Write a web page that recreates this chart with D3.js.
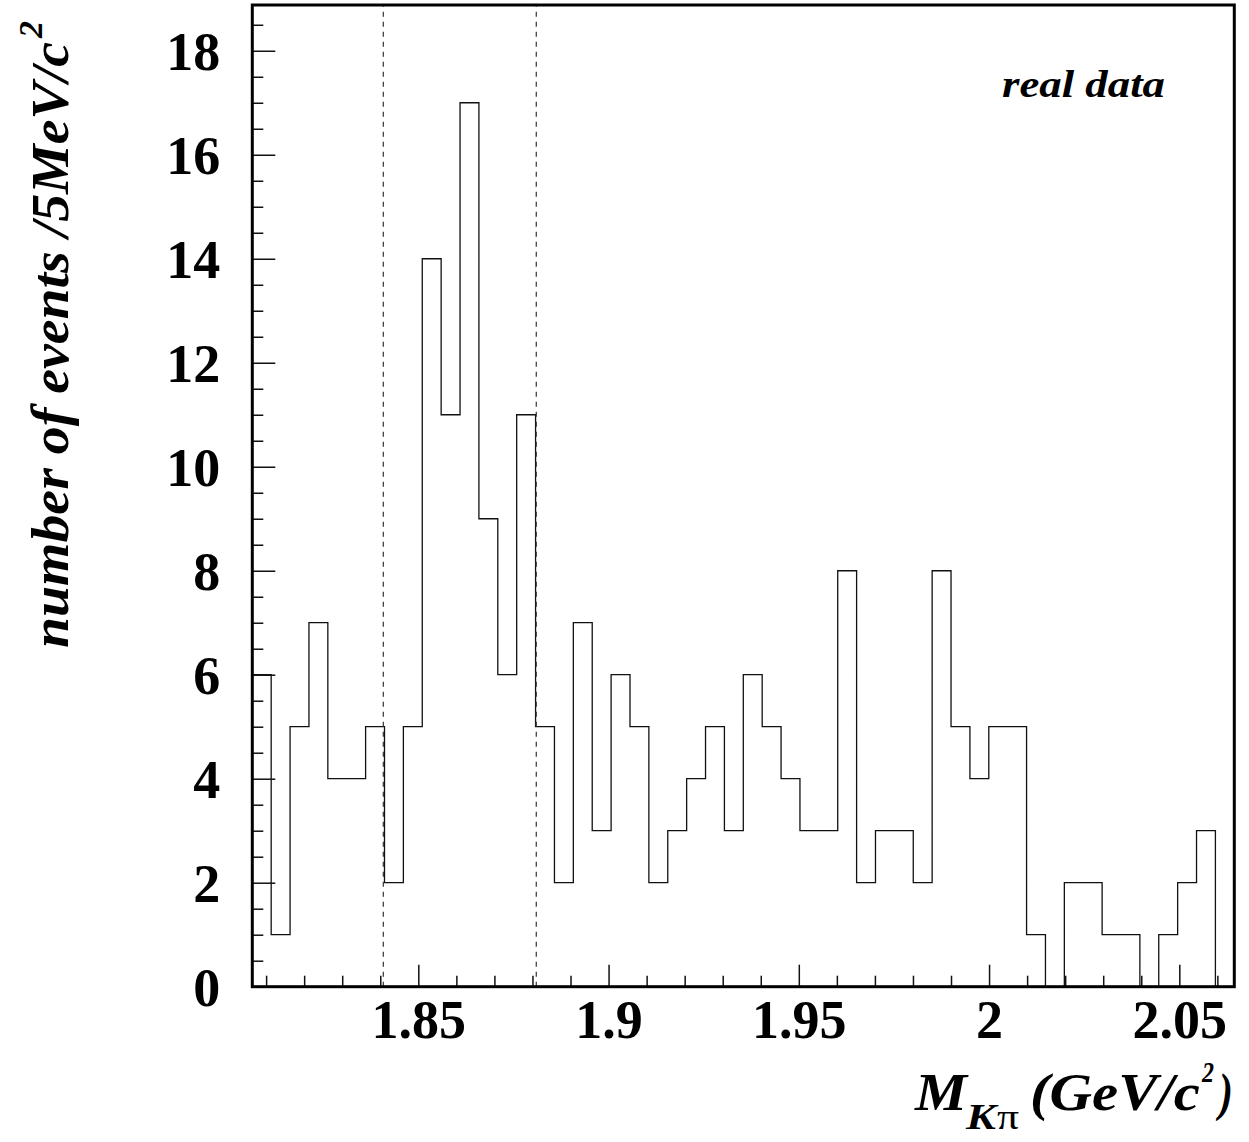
<!DOCTYPE html>
<html>
<head>
<meta charset="utf-8">
<script src="https://cdn.jsdelivr.net/npm/d3@7"></script>
<style>
  html, body { margin: 0; padding: 0; background: #fff; }
  svg { display: block; }
  text { font-family: "Liberation Serif", "Times New Roman", serif; fill: #000; }
</style>
</head>
<body>
<svg id="chart" width="1249" height="1142"></svg>
<script>
// ---- data ----
const counts = [6, 1, 5, 7, 4, 4, 5, 2, 5, 14, 11, 17, 9, 6, 11, 5, 2, 7, 3, 6,
                5, 2, 3, 4, 5, 3, 6, 5, 4, 3, 3, 8, 2, 3, 3, 2, 8, 5, 4, 5,
                5, 1, 0, 2, 2, 1, 1, 0, 1, 2, 3, 0];
const xRange = [1.80637, 2.06445];
const yRange = [0, 18.88];
const cutLines = [1.8408, 1.8810];
const xMajorTicks = [1.85, 1.9, 1.95, 2, 2.05];
const xMinorTicks = [1.81, 1.82, 1.83, 1.84, 1.86, 1.87, 1.88, 1.89, 1.91, 1.92, 1.93, 1.94,
                     1.96, 1.97, 1.98, 1.99, 2.01, 2.02, 2.03, 2.04, 2.06];
const yMajorTicks = [0, 2, 4, 6, 8, 10, 12, 14, 16, 18];
const yMinorTicks = [0.5, 1, 1.5, 2.5, 3, 3.5, 4.5, 5, 5.5, 6.5, 7, 7.5, 8.5, 9, 9.5,
                     10.5, 11, 11.5, 12.5, 13, 13.5, 14.5, 15, 15.5, 16.5, 17, 17.5, 18.5];
const labelText = "real data";
const yTitle = "number of events /5MeV/c";

// ---- layout ----
const svg = d3.select("#chart");
const L = 252.3, R = 1234.3, T = 5, B = 986.7;
const x = d3.scaleLinear().domain(xRange).range([L, R]);
const y = d3.scaleLinear().domain(yRange).range([B, T]);
const binW = (xRange[1] - xRange[0]) / counts.length;

// histogram step path
const pts = [[xRange[0], 0]];
counts.forEach((c, i) => {
  const x0 = xRange[0] + i * binW, x1 = xRange[0] + (i + 1) * binW;
  pts.push([x0, c]); pts.push([x1, c]);
});
pts.push([xRange[1], 0]);
svg.append("path")
  .attr("d", d3.line().x(d => x(d[0])).y(d => y(d[1]))(pts))
  .attr("fill", "none").attr("stroke", "#111").attr("stroke-width", 1.3);

// dashed cut lines
svg.selectAll("line.cut").data(cutLines).join("line")
  .attr("class", "cut")
  .attr("x1", d => x(d)).attr("x2", d => x(d))
  .attr("y1", B).attr("y2", T)
  .attr("stroke", "#333").attr("stroke-width", 1.2)
  .attr("stroke-dasharray", "5,5");

// axes
const fmt = d => String(+d.toFixed(2));
const xMaj = svg.append("g").attr("transform", `translate(0,${B})`)
  .call(d3.axisBottom(x).tickValues(xMajorTicks).tickFormat(fmt)
        .tickSizeInner(-22).tickSizeOuter(0).tickPadding(13));
const xMin = svg.append("g").attr("transform", `translate(0,${B})`)
  .call(d3.axisBottom(x).tickValues(xMinorTicks).tickFormat("")
        .tickSizeInner(-11).tickSizeOuter(0));
const yMaj = svg.append("g").attr("transform", `translate(${L},0)`)
  .call(d3.axisLeft(y).tickValues(yMajorTicks).tickFormat(fmt)
        .tickSizeInner(-23).tickSizeOuter(0).tickPadding(32));
const yMin = svg.append("g").attr("transform", `translate(${L},0)`)
  .call(d3.axisLeft(y).tickValues(yMinorTicks).tickFormat("")
        .tickSizeInner(-11).tickSizeOuter(0));
[xMaj, xMin, yMaj, yMin].forEach(g => {
  g.select(".domain").remove();
  g.selectAll(".tick line").attr("stroke", "#111").attr("stroke-width", 1.5);
  g.selectAll(".tick text")
    .attr("font-family", "'Liberation Serif', serif")
    .attr("font-weight", "bold").attr("font-size", 54).attr("fill", "#000");
});
yMaj.selectAll(".tick text").attr("dy", "0.34em");

// frame
svg.append("rect")
  .attr("x", L).attr("y", T).attr("width", R - L).attr("height", B - T)
  .attr("fill", "none").attr("stroke", "#000").attr("stroke-width", 3);

// "real data"
svg.append("text").attr("x", 1002).attr("y", 97)
  .attr("font-size", 38).attr("font-weight", "bold").attr("font-style", "italic")
  .attr("textLength", 163).attr("lengthAdjust", "spacingAndGlyphs")
  .text(labelText);

// Y title
const yt = svg.append("g").attr("transform", "translate(68,648) rotate(-90)");
yt.append("text").attr("x", 0).attr("y", 0)
  .attr("font-size", 53).attr("font-weight", "bold").attr("font-style", "italic")
  .attr("textLength", 606).attr("lengthAdjust", "spacingAndGlyphs")
  .text(yTitle);
yt.append("text").attr("x", 610).attr("y", -26)
  .attr("font-size", 34).attr("font-weight", "bold").attr("font-style", "italic")
  .text("2");

// X title
const xt = [
  {t: "M", x: 915, y: 1110, s: 52, w: 52, it: true},
  {t: "K", x: 966, y: 1129, s: 36, w: 30, it: true},
  {t: "π", x: 997, y: 1129, s: 36, w: 22, it: false},
  {t: "(GeV/c", x: 1030, y: 1110, s: 52, w: 170, it: true},
  {t: "2", x: 1202, y: 1082, s: 30, w: 12, it: true},
  {t: ")", x: 1219, y: 1110, s: 52, w: 14, it: true}
];
svg.selectAll("text.xt").data(xt).join("text")
  .attr("class", "xt")
  .attr("x", d => d.x).attr("y", d => d.y)
  .attr("font-size", d => d.s)
  .attr("font-weight", d => d.it ? "bold" : "normal")
  .attr("font-style", d => d.it ? "italic" : "normal")
  .attr("textLength", d => d.w).attr("lengthAdjust", "spacingAndGlyphs")
  .text(d => d.t);
</script>
</body>
</html>
